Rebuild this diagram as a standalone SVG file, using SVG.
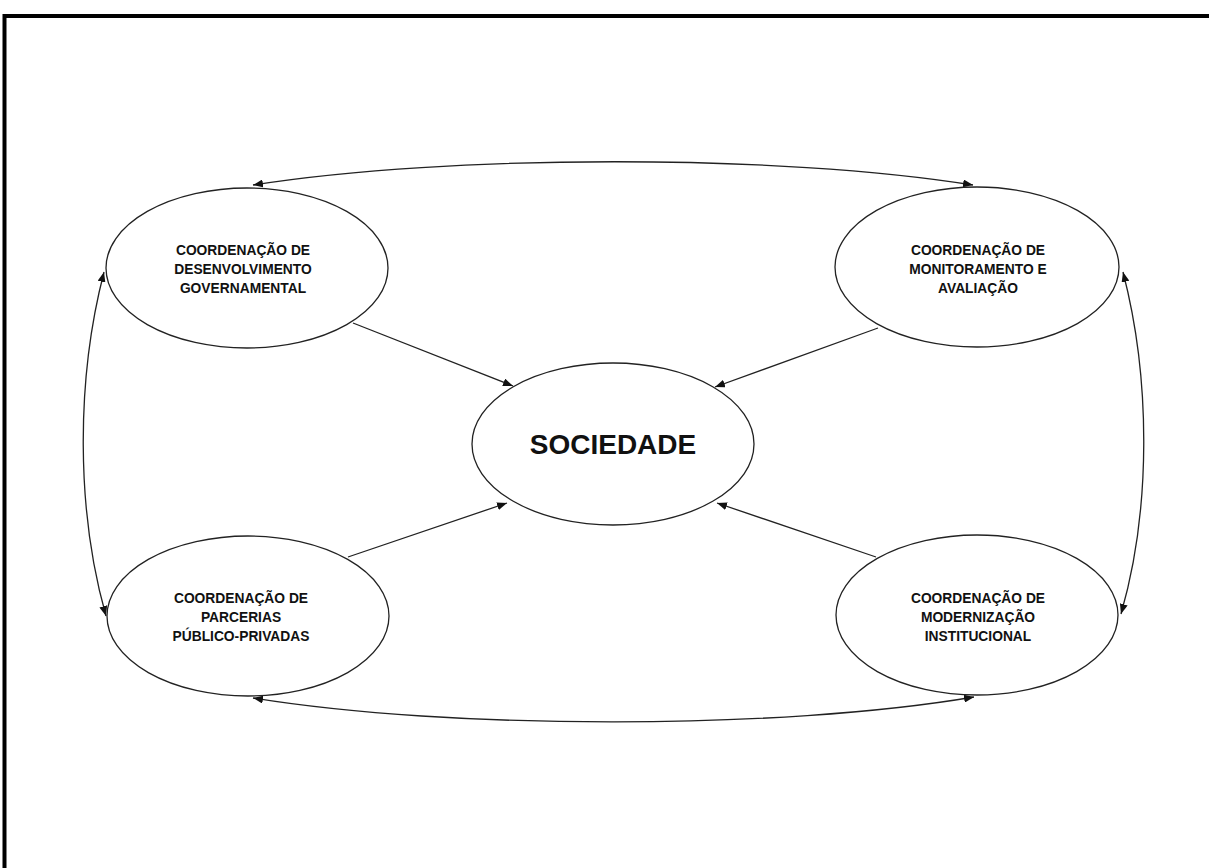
<svg xmlns="http://www.w3.org/2000/svg" width="1209" height="868" viewBox="0 0 1209 868">
<defs>
<style>
.node ellipse{fill:#fff;stroke:#222;stroke-width:1.3}
.lbl{font-family:"Liberation Sans",Arial,sans-serif;font-weight:bold;font-size:13.8px;fill:#111;text-anchor:middle}
.big{font-family:"Liberation Sans",Arial,sans-serif;font-weight:bold;font-size:28px;fill:#111;text-anchor:middle}
.conn path{fill:none;stroke:#222;stroke-width:1.3}
</style>
<marker id="ah" viewBox="0 0 10 8" refX="10" refY="4" markerWidth="10" markerHeight="8" markerUnits="userSpaceOnUse" orient="auto-start-reverse">
<path d="M0,0 L10,4 L0,8 Z" fill="#111"/>
</marker>
</defs>
<rect width="1209" height="868" fill="#fff"/>
<path d="M4.5,868 V16 H1209" fill="none" stroke="#000" stroke-width="4"/>
<g class="conn">
<path d="M253,185 C450,154 780,154 973,185" marker-start="url(#ah)" marker-end="url(#ah)"/>
<path d="M253,698 C450,730 780,730 974,697" marker-start="url(#ah)" marker-end="url(#ah)"/>
<path d="M104,272 C76,380 76,510 106,616" marker-start="url(#ah)" marker-end="url(#ah)"/>
<path d="M1123,272 C1151,380 1151,510 1121,614" marker-start="url(#ah)" marker-end="url(#ah)"/>
<path d="M353,323 L513,386" marker-end="url(#ah)"/>
<path d="M878,328 L715,387" marker-end="url(#ah)"/>
<path d="M348,557 L507,503" marker-end="url(#ah)"/>
<path d="M876,557 L717,503" marker-end="url(#ah)"/>
</g>
<g id="node-dg" class="node">
<ellipse cx="247" cy="268" rx="141" ry="80"/>
<text class="lbl" x="243" y="255">COORDENAÇÃO DE</text>
<text class="lbl" x="243" y="274">DESENVOLVIMENTO</text>
<text class="lbl" x="243" y="293">GOVERNAMENTAL</text>
</g>
<g id="node-ma" class="node">
<ellipse cx="977" cy="267" rx="142" ry="80"/>
<text class="lbl" x="978" y="255">COORDENAÇÃO DE</text>
<text class="lbl" x="978" y="274">MONITORAMENTO E</text>
<text class="lbl" x="978" y="293">AVALIAÇÃO</text>
</g>
<g id="node-ppp" class="node">
<ellipse cx="248" cy="616" rx="141" ry="80"/>
<text class="lbl" x="241" y="603">COORDENAÇÃO DE</text>
<text class="lbl" x="241" y="622">PARCERIAS</text>
<text class="lbl" x="241" y="641">PÚBLICO-PRIVADAS</text>
</g>
<g id="node-mi" class="node">
<ellipse cx="977" cy="615" rx="141" ry="80"/>
<text class="lbl" x="978" y="603">COORDENAÇÃO DE</text>
<text class="lbl" x="978" y="622">MODERNIZAÇÃO</text>
<text class="lbl" x="978" y="641">INSTITUCIONAL</text>
</g>
<g id="node-soc" class="node">
<ellipse cx="613" cy="444" rx="141" ry="81"/>
<text class="big" x="613" y="454">SOCIEDADE</text>
</g>
</svg>
